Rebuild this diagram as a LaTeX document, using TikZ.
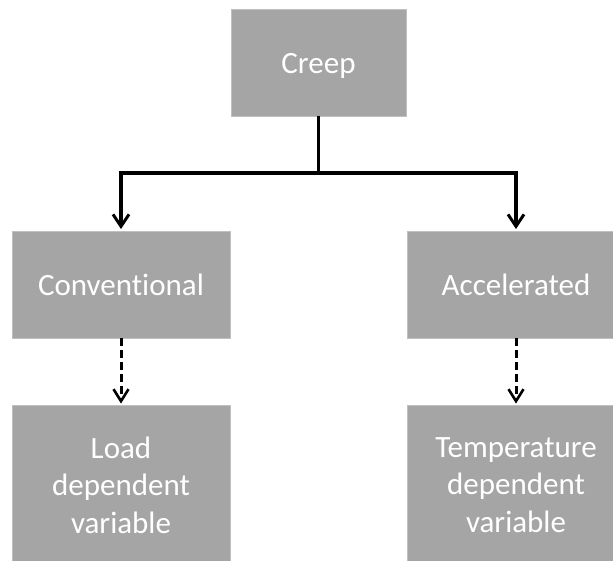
\documentclass[tikz,border=0pt]{standalone}
\usepackage{fontspec}
\setmainfont{Carlito}[Ligatures=NoCommon]
\usetikzlibrary{arrows.meta}
\definecolor{boxgray}{HTML}{A5A5A5}
\begin{document}
\begin{tikzpicture}[x=1pt,y=1pt,
  box/.style={fill=boxgray,draw=boxgray!70!white,line width=0.8pt,inner sep=0pt,text=white,
    font=\fontsize{31}{37.5}\selectfont,align=center},
  conn/.style={line width=3.3pt,black},
  arr/.style={conn,-{Straight Barb[length=12pt,width=16pt,line width=3pt]}},
  darr/.style={line width=3pt,black,dash pattern=on 8pt off 4pt,-{Straight Barb[length=12pt,width=15pt,line width=2.6pt]}}]
\useasboundingbox (0,0) rectangle (613,-560);
\clip (0,0) rectangle (613,-560);
\node[box,minimum width=175pt,minimum height=107pt] (creep) at (318.5,-62.5) {\raisebox{-3pt}[\height][\depth]{Creep}};
\node[box,minimum width=218pt,minimum height=107pt] (conv) at (121,-284.5) {Conventional};
\node[box,minimum width=218pt,minimum height=107pt] (acc) at (516,-284.5) {Accelerated};
\node[box,minimum width=218pt,minimum height=160pt] (load) at (121,-485) {Load\\dependent\\variable};
\node[box,minimum width=218pt,minimum height=160pt] (temp) at (516,-485) {Temperature\\dependent\\variable};
\coordinate (j) at (318.5,-173);
\draw[conn] (creep.south) -- ([yshift=-1.65pt]j);
\draw[arr] ([xshift=1.65pt]j) -| ([yshift=1.5pt]conv.north);
\draw[arr] ([xshift=-1.65pt]j) -| ([yshift=1.5pt]acc.north);
\draw[darr] (conv.south) -- ([yshift=1pt]load.north);
\draw[darr] (acc.south) -- ([yshift=1pt]temp.north);
\end{tikzpicture}
\end{document}
